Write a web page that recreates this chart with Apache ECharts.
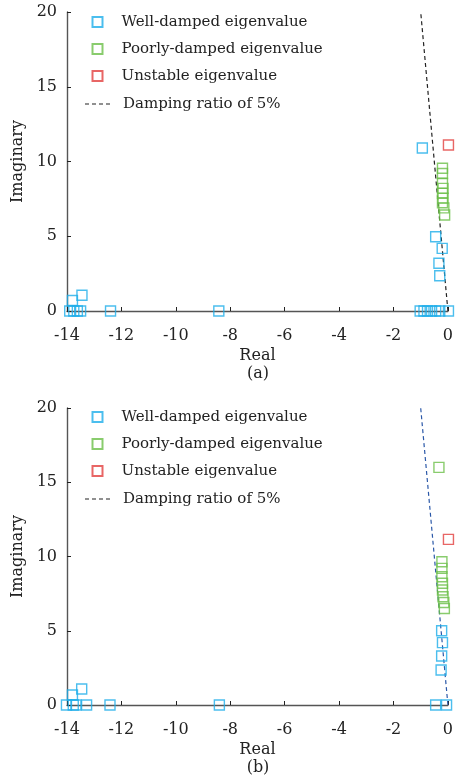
<!DOCTYPE html>
<html>
<head>
<meta charset="utf-8">
<script src="https://cdn.jsdelivr.net/npm/echarts@6/dist/echarts.min.js"></script>
<style>html,body{margin:0;padding:0;background:#fff}#c{width:456px;height:776px}</style>
</head>
<body>
<div id="c"></div>
<script>
// ---- data ----
const seriesNames = ['Well-damped eigenvalue','Poorly-damped eigenvalue','Unstable eigenvalue','Damping ratio of 5%'];
const xTicks = [-14,-12,-10,-8,-6,-4,-2,0];
const yTicks = [0,5,10,15,20];
const panelLabels = ['(a)','(b)'];

const wellA = [[-13.9,0],[-13.8,0.7],[-13.45,1.05],[-13.75,0],[-13.62,0],[-13.5,0],[-12.4,0],[-8.42,0],
  [-1.02,0],[-0.88,0],[-0.75,0],[-0.6,0],[-0.45,0],[-0.3,0],[0.02,0],
  [-0.94,10.9],[-0.45,4.97],[-0.21,4.19],[-0.33,3.19],[-0.3,2.36]];
const poorA = [[-0.2,9.55],[-0.2,9.2],[-0.2,8.55],[-0.18,8.2],[-0.2,7.87],[-0.18,7.55],[-0.2,7.24],[-0.15,6.9],[-0.12,6.42]];
const unstA = [[0.02,11.1]];

const wellB = [[-14.02,0],[-13.8,0.67],[-13.46,1.08],[-13.77,0],[-13.67,0],[-13.28,0],[-12.42,0],[-8.4,0],
  [-0.45,0],[-0.05,0],[-0.23,5.0],[-0.2,4.2],[-0.23,3.3],[-0.25,2.36]];
const poorB = [[-0.33,16.0],[-0.22,9.65],[-0.22,9.2],[-0.22,8.64],[-0.2,8.2],[-0.2,7.74],[-0.18,7.29],[-0.15,6.9],[-0.13,6.5]];
const unstB = [[0.02,11.15]];

const dampLine = [[0,0],[-1.0,20]];

// ---- style ----
const FONT = 'DejaVu Serif';
const C_WELL = '#1eaeea', C_POOR = '#6cbf48', C_UNST = '#e2403f';
function TXT(s){ return {fontFamily:FONT, fontSize:s, color:'#222'}; }

function sq(name, data, color, idx){
  return {name, type:'scatter', xAxisIndex:idx, yAxisIndex:idx, data, symbol:'rect', symbolSize:10, clip:false,
    itemStyle:{color:'rgba(255,255,255,0)', borderColor:color, borderWidth:1.4}, emphasis:{disabled:true}, z:3};
}
function line(data, color, idx){
  return {name:seriesNames[3], type:'line', xAxisIndex:idx, yAxisIndex:idx, data, symbol:'none', clip:false,
    itemStyle:{color}, lineStyle:{color, width:1.2, type:[4,3]}, emphasis:{disabled:true}, z:2};
}
function xAx(idx){
  return {type:'value', gridIndex:idx, min:xTicks[0], max:xTicks[xTicks.length-1], interval:2,
    name:'Real', nameLocation:'middle', nameGap:37, nameTextStyle:TXT(16),
    axisLine:{show:true, onZero:false, lineStyle:{color:'#555', width:1.4}},
    axisTick:{show:true, inside:true, length:4, lineStyle:{color:'#222'}},
    axisLabel:Object.assign({margin:17}, TXT(16)),
    splitLine:{show:false}};
}
function yAx(idx){
  return {type:'value', gridIndex:idx, min:yTicks[0], max:yTicks[yTicks.length-1], interval:5,
    name:'Imaginary', nameLocation:'middle', nameGap:40, nameRotate:90, nameTextStyle:TXT(16),
    axisLine:{show:true, onZero:false, lineStyle:{color:'#555', width:1.4}},
    axisTick:{show:true, inside:true, length:4, lineStyle:{color:'#222'}},
    axisLabel:Object.assign({margin:10}, TXT(16)),
    splitLine:{show:false}};
}
const DASH_ICON = 'path://M0 0H4V1H0Z M7 0H11V1H7Z M14 0H18V1H14Z M21 0H25V1H21Z';
function legends(top){
  return [
    {orient:'vertical', left:86.5, top:top-5, itemWidth:10, itemHeight:10, itemGap:9, selectedMode:false,
     data:seriesNames.slice(0,3), textStyle:Object.assign({lineHeight:18, padding:[0,0,0,14]}, TXT(15))},
    {orient:'vertical', left:80, top:top+77, itemWidth:25, itemHeight:1.2, selectedMode:false,
     data:[{name:seriesNames[3], icon:DASH_ICON, itemStyle:{color:'#222', borderWidth:0}}],
     textStyle:Object.assign({lineHeight:18, padding:[0,0,0,8]}, TXT(15))}
  ];
}

const chart = echarts.init(document.getElementById('c'), null, {renderer:'canvas'});
chart.setOption({
  animation:false,
  backgroundColor:'#fff',
  grid:[{left:67, top:12, width:382, height:299}, {left:67, top:408, width:382, height:297}],
  xAxis:[xAx(0), xAx(1)],
  yAxis:[yAx(0), yAx(1)],
  legend:[...legends(13), ...legends(408)],
  series:[
    line(dampLine, '#222', 0),
    sq(seriesNames[0], wellA, C_WELL, 0),
    sq(seriesNames[1], poorA, C_POOR, 0),
    sq(seriesNames[2], unstA, C_UNST, 0),
    line(dampLine, '#2b58a8', 1),
    sq(seriesNames[0], wellB, C_WELL, 1),
    sq(seriesNames[1], poorB, C_POOR, 1),
    sq(seriesNames[2], unstB, C_UNST, 1)
  ],
  graphic:[
    {type:'text', style:{text:panelLabels[0], font:'16px "DejaVu Serif"', fill:'#222', x:258, y:374, align:'center', verticalAlign:'middle'}},
    {type:'text', style:{text:panelLabels[1], font:'16px "DejaVu Serif"', fill:'#222', x:258, y:768, align:'center', verticalAlign:'middle'}}
  ]
});
</script>
</body>
</html>
